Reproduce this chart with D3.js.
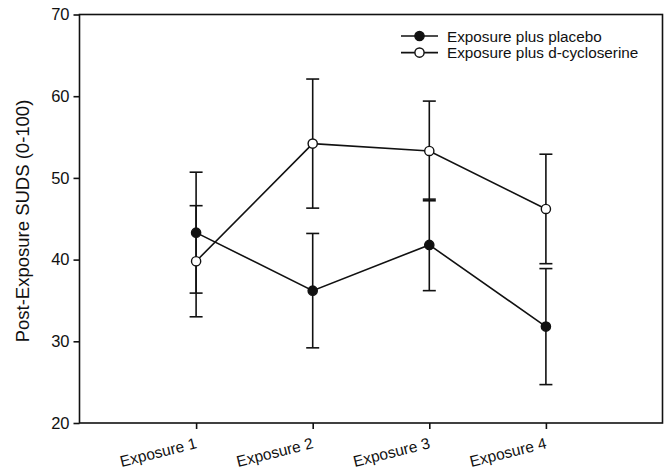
<!DOCTYPE html>
<html>
<head>
<meta charset="utf-8">
<script src="https://cdn.jsdelivr.net/npm/d3@7"></script>
<style>
  html, body { margin: 0; padding: 0; background: #fff; }
  svg { display: block; font-family: "Liberation Sans", Arial, sans-serif; }
</style>
</head>
<body>
<svg id="chart" width="669" height="469"></svg>
<script>
// Sessions on the x axis
const sessions = [1, 2, 3, 4];
const sessionLabels = ["Exposure 1", "Exposure 2", "Exposure 3", "Exposure 4"];

// Mean post-exposure SUDS and standard errors per group
const placeboMean = [43.3, 36.2, 41.8, 31.8];
const placeboErr  = [7.4, 7.0, 5.6, 7.1];
const dcsMean     = [39.8, 54.2, 53.3, 46.2];
const dcsErr      = [6.8, 7.9, 6.1, 6.7];

const seriesNames = ["Exposure plus placebo", "Exposure plus d-cycloserine"];
const yTicks = [20, 30, 40, 50, 60, 70];

(function draw() {
  const svg = d3.select("#chart");
  const plotL = 79.5, plotR = 662.5, plotT = 14.5, plotB = 423;

  const x = d3.scaleLinear().domain([0, 5]).range([plotL, plotR]);
  const y = d3.scaleLinear().domain([20, 70]).range([plotB, plotT]);

  const ink = "#111";

  // Plot frame
  svg.append("rect")
    .attr("x", plotL).attr("y", plotT)
    .attr("width", plotR - plotL).attr("height", plotB - plotT)
    .attr("fill", "none").attr("stroke", ink).attr("stroke-width", 1.6);

  // Y axis
  const yAxis = svg.append("g")
    .attr("transform", `translate(${plotL},0)`)
    .call(d3.axisLeft(y).tickValues(yTicks).tickSize(6).tickPadding(4).tickFormat(d3.format("d")));
  yAxis.select(".domain").remove();
  yAxis.selectAll("line").attr("stroke", ink).attr("stroke-width", 1.6);
  yAxis.selectAll("text").attr("font-size", 16.5).attr("fill", ink)
    .attr("font-family", "Liberation Sans, Arial, sans-serif");

  // X axis with slanted labels
  const xAxis = svg.append("g")
    .attr("transform", `translate(0,${plotB})`)
    .call(d3.axisBottom(x).tickValues(sessions).tickSize(6).tickFormat((d, i) => sessionLabels[i]));
  xAxis.select(".domain").remove();
  xAxis.selectAll("line").attr("stroke", ink).attr("stroke-width", 1.6);
  xAxis.selectAll("text")
    .attr("font-size", 15.5).attr("fill", ink)
    .attr("font-family", "Liberation Sans, Arial, sans-serif")
    .attr("text-anchor", "end")
    .attr("dy", null)
    .attr("y", 0)
    .attr("transform", "translate(1,25) rotate(-14)");

  // Y axis title
  svg.append("text")
    .attr("transform", `translate(29,221) rotate(-90)`)
    .attr("text-anchor", "middle")
    .attr("font-size", 18.5)
    .attr("fill", ink)
    .text("Post-Exposure SUDS (0-100)");

  const groups = [
    { name: seriesNames[0], mean: placeboMean, err: placeboErr, fill: ink },
    { name: seriesNames[1], mean: dcsMean, err: dcsErr, fill: "#fff" }
  ];

  const line = d3.line().x((d, i) => x(sessions[i])).y(d => y(d));
  const capHalf = 6.5;

  // Connecting lines
  groups.forEach(g => {
    svg.append("path")
      .attr("d", line(g.mean))
      .attr("fill", "none").attr("stroke", ink).attr("stroke-width", 1.6);
  });

  // Error bars
  groups.forEach(g => {
    const eb = svg.append("g").attr("stroke", ink).attr("stroke-width", 1.6);
    g.mean.forEach((m, i) => {
      const cx = x(sessions[i]);
      const hi = y(m + g.err[i]), lo = y(m - g.err[i]);
      eb.append("line").attr("x1", cx).attr("x2", cx).attr("y1", hi).attr("y2", lo);
      eb.append("line").attr("x1", cx - capHalf).attr("x2", cx + capHalf).attr("y1", hi).attr("y2", hi);
      eb.append("line").attr("x1", cx - capHalf).attr("x2", cx + capHalf).attr("y1", lo).attr("y2", lo);
    });
  });

  // Markers
  groups.forEach(g => {
    svg.append("g").selectAll("circle")
      .data(g.mean)
      .join("circle")
      .attr("cx", (d, i) => x(sessions[i]))
      .attr("cy", d => y(d))
      .attr("r", 4.6)
      .attr("fill", g.fill)
      .attr("stroke", ink).attr("stroke-width", 1.4);
  });

  // Legend
  const legend = svg.append("g").attr("transform", "translate(401,36)");
  groups.forEach((g, i) => {
    const row = legend.append("g").attr("transform", `translate(0,${i * 16.6})`);
    row.append("line").attr("x1", 0).attr("x2", 37).attr("y1", 0).attr("y2", 0)
      .attr("stroke", ink).attr("stroke-width", 1.6);
    row.append("circle").attr("cx", 18.5).attr("cy", 0).attr("r", 4.6)
      .attr("fill", g.fill).attr("stroke", ink).attr("stroke-width", 1.4);
    row.append("text").attr("x", 46).attr("y", 5.5)
      .attr("font-size", 15.3).attr("fill", ink)
      .text(g.name);
  });
})();
</script>
</body>
</html>
